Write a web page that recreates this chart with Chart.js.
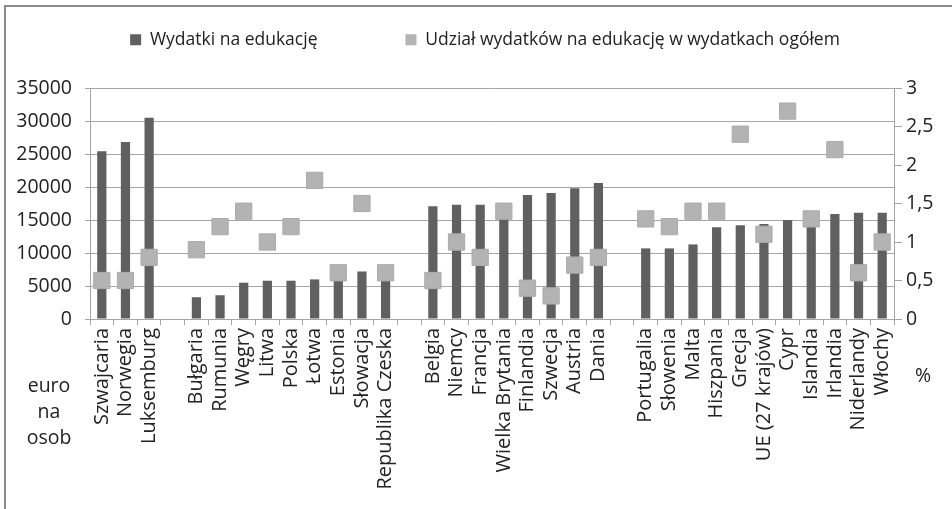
<!DOCTYPE html>
<html>
<head>
<meta charset="utf-8">
<script src="https://cdn.jsdelivr.net/npm/chart.js@4/dist/chart.umd.min.js"></script>
<style>
  html, body { margin: 0; padding: 0; background: #fff; }
  #wrap { width: 952px; height: 509px; }
</style>
</head>
<body>
<div id="wrap"><canvas id="eduChart" width="952" height="509"></canvas></div>
<script>
// data (empty labels are the gaps between country groups)
var countries = [
    'Szwajcaria', 'Norwegia', 'Luksemburg', '',
    'Bułgaria', 'Rumunia', 'Węgry', 'Litwa', 'Polska', 'Łotwa', 'Estonia', 'Słowacja', 'Republika Czeska', '',
    'Belgia', 'Niemcy', 'Francja', 'Wielka Brytania', 'Finlandia', 'Szwecja', 'Austria', 'Dania', '',
    'Portugalia', 'Słowenia', 'Malta', 'Hiszpania', 'Grecja', 'UE (27 krajów)', 'Cypr', 'Islandia', 'Irlandia', 'Niderlandy', 'Włochy'
];
var spending = [
    25400, 26800, 30500, null,
    3300, 3600, 5500, 5800, 5800, 6000, 6100, 7200, 6200, null,
    17100, 17300, 17300, 16900, 18800, 19100, 19800, 20600, null,
    10700, 10700, 11300, 13900, 14200, 14400, 15000, 14900, 15900, 16100, 16100
];
var share = [
    0.5, 0.5, 0.8, null,
    0.9, 1.2, 1.4, 1.0, 1.2, 1.8, 0.6, 1.5, 0.6, null,
    0.5, 1.0, 0.8, 1.4, 0.4, 0.3, 0.7, 0.8, null,
    1.3, 1.2, 1.4, 1.4, 2.4, 1.1, 2.7, 1.3, 2.2, 0.6, 1.0
];
var seriesNames = ['Wydatki na edukację', 'Udział wydatków na edukację w wydatkach ogółem'];
var leftTitle = ['euro', 'na', 'osob'];
var rightTitle = '%';

var tickFont = { family: 'Open Sans', size: 19.5 };
var gridColor = '#a6a6a6';
var textColor = '#222';

// frame line + axis captions under the axes
var extras = {
    id: 'extras',
    afterInit: function (chart) {
        // legend needs a wide gap between items, keep its box height fixed
        var lg = chart.legend;
        var fit = lg.fit;
        lg.fit = function () {
            fit.call(this);
            this.height = 145;
        };
        // legend sits a little right of centre in the original
        var draw = lg.draw;
        lg.draw = function () {
            this.ctx.save();
            this.ctx.translate(9, 0);
            draw.call(this);
            this.ctx.restore();
        };
    },
    beforeDraw: function (chart) {
        var c = chart.ctx;
        c.save();
        c.fillStyle = '#fff';
        c.fillRect(0, 0, chart.width, chart.height);
        c.strokeStyle = '#8a8a8a';
        c.lineWidth = 2;
        c.strokeRect(5, 6, chart.width + 20, chart.height + 20);
        c.restore();
    },
    afterDraw: function (chart) {
        var c = chart.ctx;
        var area = chart.chartArea;
        c.save();
        c.font = '19.5px "Open Sans"';
        c.fillStyle = textColor;
        c.textAlign = 'center';
        c.textBaseline = 'middle';
        leftTitle.forEach(function (t, i) {
            c.fillText(t, area.left - 41, area.bottom + 67 + i * 26);
        });
        c.fillText(rightTitle, area.right + 29, area.bottom + 57);
        c.restore();
    }
};

new Chart(document.getElementById('eduChart'), {
    type: 'bar',
    data: {
        labels: countries,
        datasets: [{
            type: 'bar',
            label: seriesNames[0],
            data: spending,
            yAxisID: 'y',
            backgroundColor: '#606060',
            barPercentage: 0.39,
            categoryPercentage: 1,
            order: 2
        }, {
            type: 'line',
            label: seriesNames[1],
            data: share,
            yAxisID: 'y1',
            showLine: false,
            pointStyle: 'rect',
            pointRadius: 11.5,
            pointHoverRadius: 11.5,
            pointBackgroundColor: '#b3b3b3',
            pointBorderColor: '#ababab',
            pointBorderWidth: 1,
            backgroundColor: '#b3b3b3',
            borderColor: '#b3b3b3',
            order: 1
        }]
    },
    options: {
        responsive: false,
        animation: false,
        layout: { padding: { top: -57, left: 0, right: 0, bottom: 0 } },
        plugins: {
            tooltip: { enabled: false },
            legend: {
                position: 'top',
                labels: {
                    boxWidth: 11,
                    boxHeight: 11,
                    padding: 88,
                    color: textColor,
                    font: { family: 'Open Sans', size: 17.5 },
                    sort: function (a, b) { return a.datasetIndex - b.datasetIndex; },
                    generateLabels: function (chart) {
                        var items = Chart.defaults.plugins.legend.labels.generateLabels(chart);
                        items.forEach(function (it) {
                            it.lineWidth = 0;
                            it.strokeStyle = 'rgba(0,0,0,0)';
                        });
                        return items;
                    }
                }
            }
        },
        scales: {
            x: {
                offset: true,
                grid: {
                    offset: true,
                    drawOnChartArea: false,
                    drawTicks: true,
                    tickLength: 6,
                    color: gridColor
                },
                border: { color: gridColor },
                ticks: {
                    autoSkip: false,
                    minRotation: 90,
                    maxRotation: 90,
                    padding: 3,
                    color: textColor,
                    font: { family: 'Open Sans', size: 20 }
                },
                afterFit: function (scale) { scale.height = 190; }
            },
            y: {
                position: 'left',
                min: 0,
                max: 35000,
                grid: { color: gridColor, tickLength: 5 },
                border: { color: gridColor },
                ticks: {
                    stepSize: 5000,
                    padding: 13,
                    color: textColor,
                    font: tickFont,
                    callback: function (v) { return String(v); }
                },
                afterFit: function (scale) { scale.width = 90; }
            },
            y1: {
                position: 'right',
                min: 0,
                max: 3,
                grid: { drawOnChartArea: false, color: gridColor, tickLength: 8 },
                border: { color: gridColor },
                ticks: {
                    stepSize: 0.5,
                    padding: 4,
                    color: textColor,
                    font: tickFont,
                    callback: function (v) { return String(v).replace('.', ','); }
                },
                afterFit: function (scale) { scale.width = 58; }
            }
        }
    },
    plugins: [extras]
});
</script>
</body>
</html>
